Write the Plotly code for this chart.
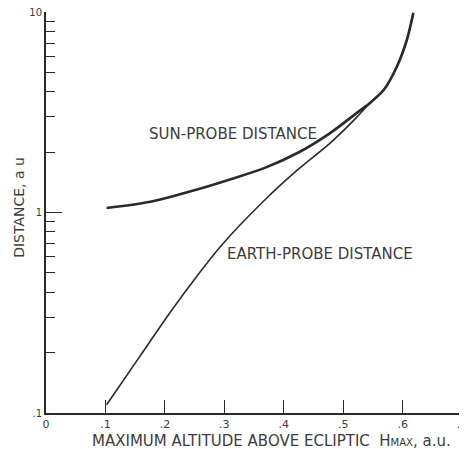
import plotly.graph_objects as go

# Data (x in a.u., distance in a.u., log scale)
sun_x = [0.102, 0.173, 0.257, 0.312, 0.368, 0.423, 0.478, 0.523, 0.545, 0.568, 0.590, 0.607, 0.618]
sun_y = [1.053, 1.128, 1.31, 1.47, 1.67, 1.98, 2.49, 3.14, 3.52, 4.08, 5.32, 7.25, 9.9]

earth_x = [0.102, 0.157, 0.212, 0.257, 0.295, 0.368, 0.423, 0.478, 0.523, 0.545, 0.568, 0.590, 0.607, 0.618]
earth_y = [0.110, 0.190, 0.327, 0.495, 0.685, 1.154, 1.63, 2.22, 2.99, 3.52, 4.08, 5.32, 7.25, 9.9]

x_ticks = [0, 0.1, 0.2, 0.3, 0.4, 0.5, 0.6, 0.7]
x_tick_labels = ["0", ".1", ".2", ".3", ".4", ".5", ".6", ".7"]
y_major = [0.1, 1, 10]
y_major_labels = [".1", "1", "10"]
y_minor = [m * d for d in (0.1, 1) for m in range(2, 10)]

ink = "#2a2a2a"
txt = "#3c3c3c"
fam = "DejaVu Sans"

fig = go.Figure()
fig.add_trace(go.Scatter(x=sun_x, y=sun_y, mode="lines",
                         line=dict(color=ink, width=2.6, shape="spline", smoothing=0.8),
                         name="Sun-probe distance", showlegend=False))
fig.add_trace(go.Scatter(x=earth_x, y=earth_y, mode="lines",
                         line=dict(color=ink, width=1.6, shape="spline", smoothing=0.8),
                         name="Earth-probe distance", showlegend=False))

fig.add_annotation(x=0.170, y=0.392, yref="y", xref="x", text="SUN-PROBE DISTANCE",
                   showarrow=False, xanchor="left", yanchor="middle",
                   font=dict(family=fam, size=15, color=txt))
fig.add_annotation(x=0.301, y=-0.207, yref="y", xref="x", text="EARTH-PROBE DISTANCE",
                   showarrow=False, xanchor="left", yanchor="middle",
                   font=dict(family=fam, size=15, color=txt))

# axis titles (placed as annotations for exact positioning)
fig.add_annotation(x=0.541, y=-0.0698, xref="paper", yref="paper",
                   text="MAXIMUM ALTITUDE ABOVE ECLIPTIC  H<span style='font-size:10px'>MAX</span>, a.u.",
                   showarrow=False, xanchor="center", yanchor="middle",
                   font=dict(family=fam, size=15, color=txt))
fig.add_annotation(x=-0.0648, y=0.514, xref="paper", yref="paper",
                   text="DISTANCE, a u", textangle=-90,
                   showarrow=False, xanchor="center", yanchor="middle",
                   font=dict(family=fam, size=14, color=txt))

# the page body has an 8px margin, so the figure is sized/offset to compensate
fig.update_layout(
    width=459, height=441,
    margin=dict(l=38, r=4, t=4, b=36),
    paper_bgcolor="white", plot_bgcolor="white",
    font=dict(family=fam, color=txt),
    xaxis=dict(range=[0, 0.7015], tickvals=x_ticks, ticktext=x_tick_labels,
               ticks="inside", ticklen=13, tickwidth=1.2, tickcolor=ink,
               showline=True, linecolor=ink, linewidth=1.8, showgrid=False, zeroline=False,
               tickfont=dict(size=11, color=txt), automargin=False,
               ticklabeloverflow="allow"),
    yaxis=dict(type="log", range=[-1, 1], tickvals=y_major, ticktext=y_major_labels,
               ticks="inside", ticklen=16, tickwidth=1.4, tickcolor=ink,
               minor=dict(tickvals=y_minor, ticks="inside", ticklen=9, tickwidth=1.2, tickcolor=ink),
               showline=True, linecolor=ink, linewidth=1.8, showgrid=False, zeroline=False,
               tickfont=dict(size=10, color=txt), automargin=False,
               ticklabeloverflow="allow"),
)

fig.write_html("out.html")
